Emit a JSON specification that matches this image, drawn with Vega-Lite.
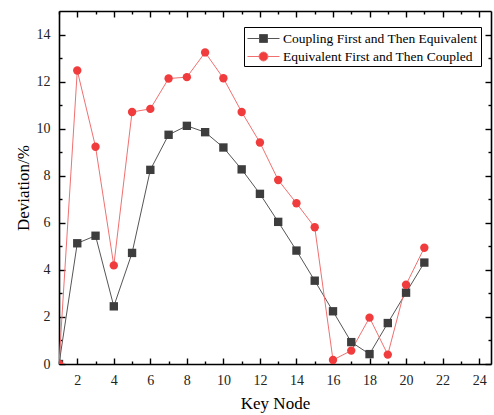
{
  "$schema": "https://vega.github.io/schema/vega-lite/v6.json",
  "width": 432,
  "height": 353,
  "autosize": "none",
  "padding": {"left": 59, "top": 11, "right": 3, "bottom": 51},
  "background": "white",
  "config": {
    "view": {"stroke": null},
    "font": "Liberation Serif",
    "axis": {
      "grid": false,
      "domainColor": "black",
      "domainWidth": 1.6,
      "tickColor": "black",
      "tickWidth": 1.4,
      "labelFont": "Liberation Serif",
      "labelFontSize": 14,
      "labelColor": "#222",
      "titleFont": "Liberation Serif",
      "titleFontSize": 17,
      "titleFontWeight": "normal",
      "titleColor": "black"
    }
  },
  "data": {
    "values": [
      {"node": 1, "dev": 0, "s": "Coupling First and Then Equivalent"},
      {"node": 2, "dev": 5.13, "s": "Coupling First and Then Equivalent"},
      {"node": 3, "dev": 5.45, "s": "Coupling First and Then Equivalent"},
      {"node": 4, "dev": 2.45, "s": "Coupling First and Then Equivalent"},
      {"node": 5, "dev": 4.72, "s": "Coupling First and Then Equivalent"},
      {"node": 6, "dev": 8.25, "s": "Coupling First and Then Equivalent"},
      {"node": 7, "dev": 9.74, "s": "Coupling First and Then Equivalent"},
      {"node": 8, "dev": 10.12, "s": "Coupling First and Then Equivalent"},
      {"node": 9, "dev": 9.85, "s": "Coupling First and Then Equivalent"},
      {"node": 10, "dev": 9.2, "s": "Coupling First and Then Equivalent"},
      {"node": 11, "dev": 8.27, "s": "Coupling First and Then Equivalent"},
      {"node": 12, "dev": 7.23, "s": "Coupling First and Then Equivalent"},
      {"node": 13, "dev": 6.04, "s": "Coupling First and Then Equivalent"},
      {"node": 14, "dev": 4.82, "s": "Coupling First and Then Equivalent"},
      {"node": 15, "dev": 3.54, "s": "Coupling First and Then Equivalent"},
      {"node": 16, "dev": 2.24, "s": "Coupling First and Then Equivalent"},
      {"node": 17, "dev": 0.93, "s": "Coupling First and Then Equivalent"},
      {"node": 18, "dev": 0.42, "s": "Coupling First and Then Equivalent"},
      {"node": 19, "dev": 1.74, "s": "Coupling First and Then Equivalent"},
      {"node": 20, "dev": 3.03, "s": "Coupling First and Then Equivalent"},
      {"node": 21, "dev": 4.31, "s": "Coupling First and Then Equivalent"},
      {"node": 1, "dev": 0, "s": "Equivalent First and Then Coupled"},
      {"node": 2, "dev": 12.47, "s": "Equivalent First and Then Coupled"},
      {"node": 3, "dev": 9.23, "s": "Equivalent First and Then Coupled"},
      {"node": 4, "dev": 4.19, "s": "Equivalent First and Then Coupled"},
      {"node": 5, "dev": 10.71, "s": "Equivalent First and Then Coupled"},
      {"node": 6, "dev": 10.84, "s": "Equivalent First and Then Coupled"},
      {"node": 7, "dev": 12.13, "s": "Equivalent First and Then Coupled"},
      {"node": 8, "dev": 12.19, "s": "Equivalent First and Then Coupled"},
      {"node": 9, "dev": 13.24, "s": "Equivalent First and Then Coupled"},
      {"node": 10, "dev": 12.14, "s": "Equivalent First and Then Coupled"},
      {"node": 11, "dev": 10.71, "s": "Equivalent First and Then Coupled"},
      {"node": 12, "dev": 9.41, "s": "Equivalent First and Then Coupled"},
      {"node": 13, "dev": 7.82, "s": "Equivalent First and Then Coupled"},
      {"node": 14, "dev": 6.83, "s": "Equivalent First and Then Coupled"},
      {"node": 15, "dev": 5.81, "s": "Equivalent First and Then Coupled"},
      {"node": 16, "dev": 0.17, "s": "Equivalent First and Then Coupled"},
      {"node": 17, "dev": 0.57, "s": "Equivalent First and Then Coupled"},
      {"node": 18, "dev": 1.97, "s": "Equivalent First and Then Coupled"},
      {"node": 19, "dev": 0.4, "s": "Equivalent First and Then Coupled"},
      {"node": 20, "dev": 3.37, "s": "Equivalent First and Then Coupled"},
      {"node": 21, "dev": 4.94, "s": "Equivalent First and Then Coupled"}
    ]
  },
  "layer": [
    {
      "mark": {"type": "line", "strokeWidth": 1, "clip": true},
      "encoding": {
        "x": {
          "field": "node", "type": "quantitative",
          "scale": {"domain": [1, 24.65], "nice": false, "zero": false},
          "axis": {"orient": "bottom", "values": [2,4,6,8,10,12,14,16,18,20,22,24], "title": "Key Node", "tickSize": -6, "labelPadding": 15, "titlePadding": 8, "labelFont": "Liberation Serif", "titleFont": "Liberation Serif"}
        },
        "y": {
          "field": "dev", "type": "quantitative",
          "scale": {"domain": [0, 15], "nice": false},
          "axis": {"orient": "left", "values": [0,2,4,6,8,10,12,14], "title": "Deviation/%", "tickSize": -6, "labelPadding": 15, "titlePadding": 4, "labelFont": "Liberation Serif", "titleFont": "Liberation Serif"}
        },
        "stroke": {
          "field": "s", "type": "nominal",
          "scale": {"range": ["#555555", "#f07070"]},
          "legend": null
        }
      }
    },
    {
      "mark": {"type": "point", "filled": true, "size": 70, "opacity": 1, "clip": true},
      "encoding": {
        "x": {"field": "node", "type": "quantitative", "axis": {"orient": "top", "values": [2,4,6,8,10,12,14,16,18,20,22,24], "labels": false, "title": null, "tickSize": -6}},
        "y": {"field": "dev", "type": "quantitative", "axis": {"orient": "right", "values": [0,2,4,6,8,10,12,14], "labels": false, "title": null, "tickSize": -6}},
        "shape": {
          "field": "s", "type": "nominal",
          "scale": {"range": ["square", "circle"]},
          "legend": null
        },
        "fill": {
          "field": "s", "type": "nominal",
          "scale": {"range": ["#3d3d3d", "#f03c3c"]},
          "legend": null
        }
      }
    },
    {
      "mark": {"type": "point", "opacity": 0},
      "encoding": {
        "x": {"field": "node", "type": "quantitative", "axis": {"orient": "bottom", "values": [1,3,5,7,9,11,13,15,17,19,21,23], "labels": false, "domain": false, "title": null, "tickSize": -3}},
        "y": {"field": "dev", "type": "quantitative", "axis": {"orient": "left", "values": [1,3,5,7,9,11,13], "labels": false, "domain": false, "title": null, "tickSize": -3}}
      }
    },
    {
      "mark": {"type": "point", "opacity": 0},
      "encoding": {
        "x": {"field": "node", "type": "quantitative", "axis": {"orient": "top", "values": [1,3,5,7,9,11,13,15,17,19,21,23], "labels": false, "domain": false, "title": null, "tickSize": -3}},
        "y": {"field": "dev", "type": "quantitative", "axis": {"orient": "right", "values": [1,3,5,7,9,11,13], "labels": false, "domain": false, "title": null, "tickSize": -3}}
      }
    },
    {
      "mark": {"type": "point", "filled": true, "opacity": 0},
      "encoding": {
        "x": {"field": "node", "type": "quantitative", "axis": null},
        "y": {"field": "dev", "type": "quantitative", "axis": null},
        "fill": {
          "field": "s", "type": "nominal",
          "scale": {"domain": ["Coupling First and Then Equivalent", "Equivalent First and Then Coupled"], "range": ["#3d3d3d", "#f03c3c"]},
          "legend": {
            "orient": "none", "legendX": 185, "legendY": 16, "title": null,
            "strokeColor": "black", "padding": 3, "rowPadding": 3,
            "labelFont": "Liberation Serif", "labelFontSize": 13.5, "labelColor": "black", "labelLimit": 0,
            "labelOffset": 19, "symbolSize": 256, "symbolStrokeWidth": 1, "symbolOpacity": 1
          }
        },
        "shape": {
          "field": "s", "type": "nominal",
          "scale": {"domain": ["Coupling First and Then Equivalent", "Equivalent First and Then Coupled"], "range": ["M-1,0H0.5M1.5,0H3M0.5,-0.5H1.5V0.5H0.5Z", "M-1,0H0.44M1.56,0H3M1.56,0A0.56,0.56,0,1,1,0.44,0A0.56,0.56,0,1,1,1.56,0Z"]},
          "legend": {
            "orient": "none", "legendX": 185, "legendY": 16, "title": null,
            "strokeColor": "black", "padding": 3, "rowPadding": 3,
            "labelFont": "Liberation Serif", "labelFontSize": 13.5, "labelColor": "black", "labelLimit": 0,
            "labelOffset": 19, "symbolSize": 256, "symbolStrokeWidth": 1, "symbolOpacity": 1
          }
        },
        "stroke": {
          "field": "s", "type": "nominal",
          "scale": {"domain": ["Coupling First and Then Equivalent", "Equivalent First and Then Coupled"], "range": ["#555555", "#f07070"]},
          "legend": {
            "orient": "none", "legendX": 185, "legendY": 16, "title": null,
            "strokeColor": "black", "padding": 3, "rowPadding": 3,
            "labelFont": "Liberation Serif", "labelFontSize": 13.5, "labelColor": "black", "labelLimit": 0,
            "labelOffset": 19, "symbolSize": 256, "symbolStrokeWidth": 1, "symbolOpacity": 1
          }
        }
      }
    }
  ],
  "resolve": {
    "scale": {"shape": "independent", "fill": "independent", "stroke": "independent"},
    "axis": {"x": "independent", "y": "independent"}
  }
}
